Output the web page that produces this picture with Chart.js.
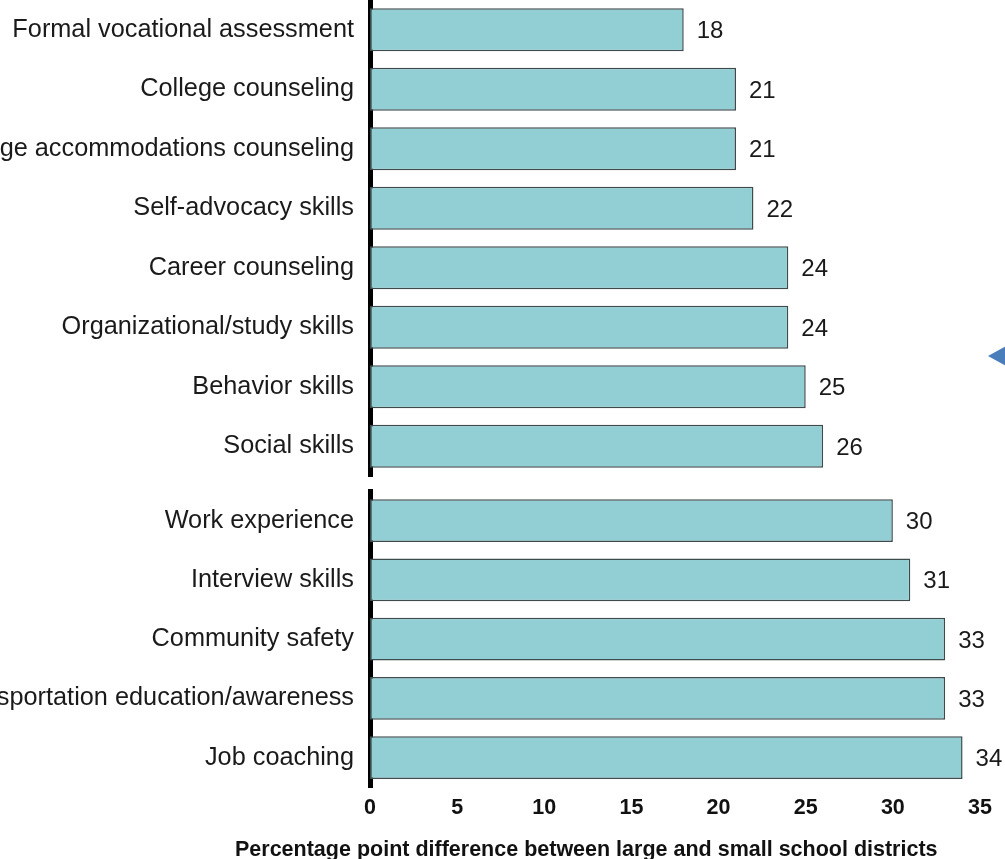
<!DOCTYPE html>
<html>
<head>
<meta charset="utf-8">
<script src="https://cdn.jsdelivr.net/npm/chart.js@4/dist/chart.umd.min.js"></script>
<style>
  html, body { margin: 0; padding: 0; background: #ffffff; overflow: hidden; }
  #page { position: relative; width: 1005px; height: 859px; }
  #topWrap { position: absolute; left: 0; top: 0; width: 1005px; height: 478px; }
  #bottomWrap { position: absolute; left: 0; top: 478px; width: 1005px; height: 381px; }
  #axisTitle {
    position: absolute; left: 235px; top: 837px; white-space: nowrap;
    font: bold 21.5px "Liberation Sans", Arial, sans-serif; color: #111;
  }
  #pointer {
    position: absolute; left: 988px; top: 345px; width: 0; height: 0;
    border-top: 11px solid transparent; border-bottom: 11px solid transparent;
    border-right: 20px solid #4a7ebb;
  }
</style>
</head>
<body>
<div id="page">
  <div id="topWrap"><canvas id="topChart"></canvas></div>
  <div id="bottomWrap"><canvas id="bottomChart"></canvas></div>
  <div id="axisTitle">Percentage point difference between large and small school districts</div>
  <div id="pointer"></div>
</div>
<script>
// Services group 1
const topCategories = [
  'Formal vocational assessment',
  'College counseling',
  'College accommodations counseling',
  'Self-advocacy skills',
  'Career counseling',
  'Organizational/study skills',
  'Behavior skills',
  'Social skills'
];
const topValues = [18, 21, 21, 22, 24, 24, 25, 26];

// Services group 2
const bottomCategories = [
  'Work experience',
  'Interview skills',
  'Community safety',
  'Transportation education/awareness',
  'Job coaching'
];
const bottomValues = [30, 31, 33, 33, 34];

// Horizontal scale
const axisMin = 0;
const axisMax = 35;
const axisStep = 5;

const FONT = '"Liberation Sans", Arial, sans-serif';
const BAR_FILL = '#92cfd5';
const BAR_EDGE = '#3d4b4c';

// Writes each bar's value just past its end
const valueLabels = {
  id: 'valueLabels',
  afterDatasetsDraw(chart) {
    const ctx = chart.ctx;
    const meta = chart.getDatasetMeta(0);
    const data = chart.data.datasets[0].data;
    ctx.save();
    ctx.font = '24px ' + FONT;
    ctx.fillStyle = '#1a1a1a';
    ctx.textAlign = 'left';
    ctx.textBaseline = 'middle';
    meta.data.forEach((bar, i) => {
      ctx.fillText(String(data[i]), bar.x + 13, bar.y + 2);
    });
    ctx.restore();
  }
};

function buildChart(canvasId, categories, values, showXAxis, padding) {
  return new Chart(document.getElementById(canvasId), {
    type: 'bar',
    data: {
      labels: categories,
      datasets: [{
        data: values,
        backgroundColor: BAR_FILL,
        borderColor: BAR_EDGE,
        borderWidth: 1.5,
        borderSkipped: false,
        barPercentage: 0.72,
        categoryPercentage: 1.0
      }]
    },
    options: {
      indexAxis: 'y',
      responsive: true,
      maintainAspectRatio: false,
      animation: false,
      layout: { padding: padding },
      plugins: {
        legend: { display: false },
        tooltip: { enabled: false },
        title: { display: false }
      },
      scales: {
        x: {
          display: showXAxis,
          min: axisMin,
          max: axisMax,
          grid: { display: false, drawTicks: false },
          border: { display: false },
          ticks: {
            stepSize: axisStep,
            padding: 8,
            color: '#111',
            font: { family: FONT, size: 21.5, weight: 'bold' },
            maxRotation: 0
          }
        },
        y: {
          grid: { display: false, drawTicks: false },
          border: { display: true, color: '#000', width: 5 },
          afterFit(scale) {
            // fixed label column; labels may run off the left edge
            scale.width = 370;
            scale.paddingTop = 0;
            scale.paddingBottom = 0;
          },
          ticks: {
            autoSkip: false,
            padding: 16,
            color: '#1a1a1a',
            font: { family: FONT, size: 25.3 }
          }
        }
      }
    },
    plugins: [valueLabels]
  });
}

buildChart('topChart', topCategories, topValues, false,
  { left: 0, right: 25, top: 0, bottom: 2 });
buildChart('bottomChart', bottomCategories, bottomValues, true,
  { left: 0, right: 25, top: 13, bottom: 30 });
</script>
</body>
</html>
